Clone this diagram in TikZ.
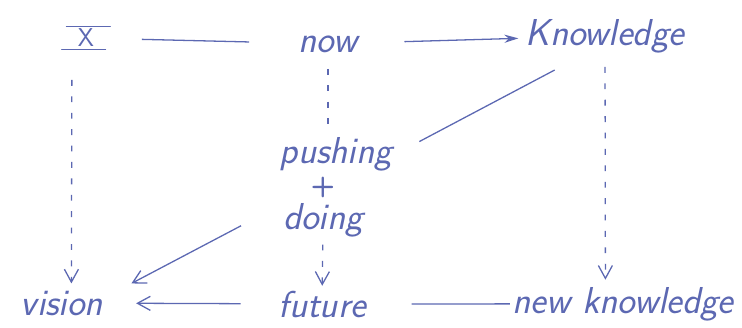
\documentclass[tikz,border=0pt]{standalone}
\usepackage{tikz}
\usepackage{xcolor}
\usetikzlibrary{positioning, arrows.meta}
\definecolor{pen}{RGB}{92, 104, 178}

\begin{document}
\begin{tikzpicture}[
    x=0.03cm, y=-0.03cm,
    word/.style={
      text=pen,
      font=\fontsize{32}{36}\selectfont\sffamily\itshape,
      inner sep=2pt
    },
    link/.style={draw=pen, line width=1.1pt},
    arrow/.style={link, -{Straight Barb[length=11pt, width=12pt]}},
    guide/.style={link, dash pattern=on 5pt off 9pt},
    bar/.style={link, line cap=round}
  ]
    \useasboundingbox (0,0) rectangle (742,327);

    \node[word, font=\fontsize{22}{24}\selectfont\sffamily, minimum width=1.3cm] (x) at (86,38) {X};
    \node[word, anchor=base] (now) at (328,52) {now};
    \node[word, anchor=base] (know) at (605,45) {Knowledge};
    \node[word, font=\fontsize{24}{26}\selectfont\sffamily\bfseries, inner sep=0pt] (plus) at (323,187) {+};
    \node[word, above=2pt of plus, xshift=11pt] (pushing) {pushing};
    \node[word, below=3pt of plus] (doing) {doing};
    \node[word, anchor=base] (vision) at (62,315) {vision};
    \node[word, anchor=base] (future) at (322,317) {future};
    \node[word, anchor=base] (newk) at (623,313) {new knowledge};

    % bars over and under the X
    \draw[bar] ([xshift=2pt]x.north west) -- ([xshift=2pt]x.north east);
    \draw[bar] ([xshift=-2pt]x.south west) -- ([xshift=-2pt]x.south east);

    \draw[link, shorten <=29pt, shorten >=40pt] (x) -- (now);
    \draw[link, -{Stealth[length=12pt, width=7pt]}, shorten <=38pt, shorten >=4pt] (now) -- (know);
    \draw[guide, shorten <=12pt, shorten >=4pt] (now.south) -- (pushing.north -| now.south);
    \draw[link, shorten <=24pt, shorten >=27pt] (pushing.east) -- (know.221);
    \draw[guide, arrow, shorten <=26pt, shorten >=4pt] ([xshift=-12pt]x.south) -- ([xshift=8pt]vision.north);
    \draw[guide, arrow, shorten <=10pt, shorten >=4pt] (know) -- ([xshift=-15pt]newk.north);
    \draw[guide, arrow, shorten <=4pt, shorten >=2pt] (doing) -- (future);
    \draw[arrow, shorten <=38pt] (doing.160) -- ([xshift=22pt, yshift=4pt]vision.north east);
    \draw[arrow, shorten <=30pt, shorten >=26pt] (future) -- (vision);
    \draw[link, shorten >=37pt] (newk) -- (future);
  \end{tikzpicture}
\end{document}
